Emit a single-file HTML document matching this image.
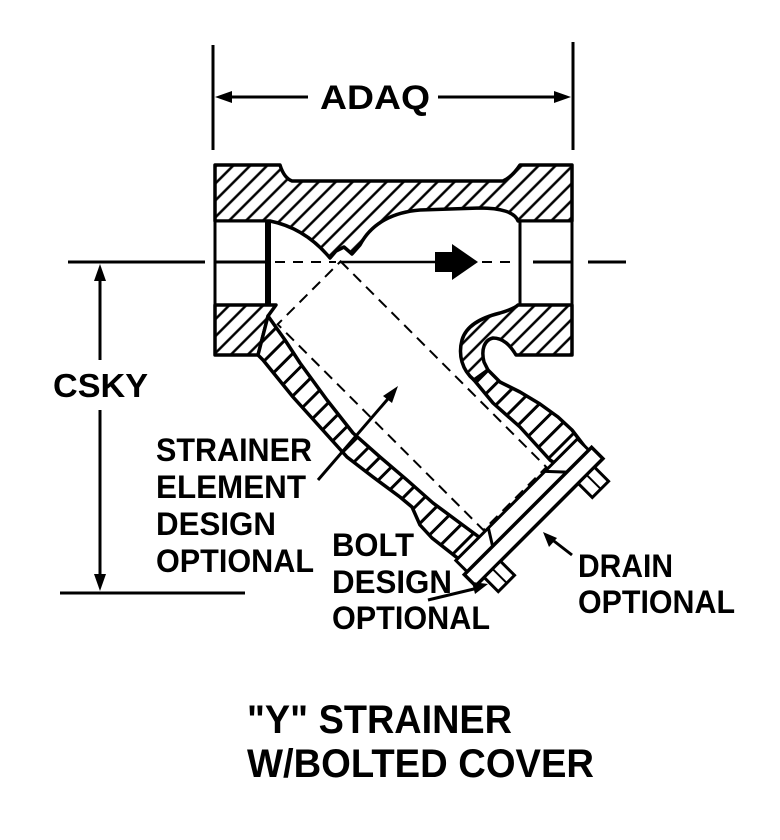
<!DOCTYPE html>
<html><head><meta charset="utf-8"><style>
html,body{margin:0;padding:0;background:#fff}
svg{display:block}
text{font-family:"Liberation Sans",Arial,sans-serif;font-weight:bold;fill:#000}
</style></head><body>
<svg width="780" height="840" viewBox="0 0 780 840" xmlns="http://www.w3.org/2000/svg">
<defs>
<pattern id="hatch" patternUnits="userSpaceOnUse" width="12" height="12" patternTransform="rotate(45)">
<rect width="12" height="12" fill="#fff"/><line x1="6" y1="0" x2="6" y2="12" stroke="#000" stroke-width="2.5"/>
</pattern>
<pattern id="rib" patternUnits="userSpaceOnUse" width="15" height="15" patternTransform="rotate(45)">
<rect width="15" height="15" fill="#fff"/><line x1="7" y1="0" x2="7" y2="15" stroke="#000" stroke-width="3"/>
</pattern>
</defs>

<!-- dimension ADAQ -->
<line x1="213" y1="45" x2="213" y2="150" stroke="#000" stroke-width="3"/>
<line x1="573" y1="42" x2="573" y2="150" stroke="#000" stroke-width="3"/>
<line x1="222" y1="97" x2="308" y2="97" stroke="#000" stroke-width="3"/>
<line x1="438" y1="97" x2="566" y2="97" stroke="#000" stroke-width="3"/>
<polygon points="215,97 232,91 232,103" fill="#000"/>
<polygon points="571,97 554,91 554,103" fill="#000"/>
<text x="320" y="109" font-size="34" textLength="110" lengthAdjust="spacingAndGlyphs">ADAQ</text>

<!-- dimension CSKY -->
<line x1="68" y1="262" x2="205" y2="262" stroke="#000" stroke-width="3"/>
<line x1="60" y1="593" x2="245" y2="593" stroke="#000" stroke-width="3"/>
<line x1="100" y1="270" x2="100" y2="360" stroke="#000" stroke-width="3"/>
<line x1="100" y1="410" x2="100" y2="585" stroke="#000" stroke-width="3"/>
<polygon points="100,264 94,281 106,281" fill="#000"/>
<polygon points="100,591 94,574 106,574" fill="#000"/>
<text x="53" y="397" font-size="33" textLength="95" lengthAdjust="spacingAndGlyphs">CSKY</text>

<!-- body upper hatch -->
<path d="M215,165 L280,165 Q284,178 292,181 L503,181 Q512,177 520,165 L572,165 L572,221 L518,221 C515,212 500,208 480,208 L420,210 C395,212 372,222 360,245 L352,254 L344,247 L336,251 L330,258 C315,240 295,226 270,221 L215,221 Z" fill="url(#hatch)" stroke="#000" stroke-width="3.5" stroke-linejoin="round"/>
<!-- bores -->
<rect x="215" y="221" width="53" height="84" fill="#fff" stroke="#000" stroke-width="3"/>
<line x1="268" y1="221" x2="268" y2="305" stroke="#000" stroke-width="6"/>
<rect x="520" y="221" width="52" height="84" fill="#fff" stroke="#000" stroke-width="3"/>
<!-- lower left hatch -->
<path d="M215,305 L276,305 L268,316 L258,355 L215,355 Z" fill="url(#hatch)" stroke="#000" stroke-width="3.5" stroke-linejoin="round"/>
<!-- lower right hatch -->
<path d="M518,305 L572,305 L572,355 L516,355 C510,345 503,338 493,338 C484,340 481,350 484,362 L488,370 L474,380 C462,370 458,355 462,340 C466,326 480,318 500,313 C510,310 516,307 518,305 Z" fill="url(#hatch)" stroke="#000" stroke-width="3.5" stroke-linejoin="round"/>

<!-- left ribbed wall -->
<path d="M258,355 L263,360 L293,397 L320,427 L347,457 L373,477 L400,497 L412,507 L420,525 L432,538 L460,560 L476,579 L490,552 L483,540 L460,523 L433,503 L407,480 L380,457 L353,433 L327,400 L300,363 L285,340 L268,316 Z" fill="url(#rib)" stroke="#000" stroke-width="3.5" stroke-linejoin="round"/>
<!-- right ribbed wall -->
<path d="M488,370 L500,382 L520,392 L540,404 L558,417 L572,430 L585,447 L565,470 L550,460 L520,427 L493,403 L474,380 Z" fill="url(#rib)" stroke="#000" stroke-width="3.5" stroke-linejoin="round"/>

<!-- centerline & flow arrow -->
<line x1="215" y1="262" x2="268" y2="262" stroke="#000" stroke-width="3"/>
<line x1="275" y1="262" x2="336" y2="262" stroke="#000" stroke-width="2" stroke-dasharray="10 8"/>
<line x1="340" y1="262" x2="436" y2="262" stroke="#000" stroke-width="2.5"/>
<rect x="435" y="252" width="18" height="20" fill="#000"/>
<polygon points="452,244 478,262 452,280" fill="#000"/>
<line x1="482" y1="262" x2="518" y2="262" stroke="#000" stroke-width="2" stroke-dasharray="10 8"/>
<line x1="533" y1="262" x2="572" y2="262" stroke="#000" stroke-width="3"/>
<line x1="588" y1="262" x2="626" y2="262" stroke="#000" stroke-width="3"/>

<!-- rotated leg frame -->
<g transform="translate(412,395) rotate(45)">
  <rect x="-145" y="-44" width="291" height="89" fill="none" stroke="#000" stroke-width="2" stroke-dasharray="11 7"/>
  <rect x="148" y="-86" width="16" height="172" fill="#fff" stroke="#000" stroke-width="3"/>
  <line x1="148" y1="-40" x2="164" y2="-55" stroke="#000" stroke-width="3"/>
  <line x1="148" y1="40" x2="164" y2="50" stroke="#000" stroke-width="3"/>
  <rect x="164" y="-90" width="16" height="180" fill="#fff" stroke="#000" stroke-width="3.5"/>
  <rect x="180" y="55" width="20" height="23" fill="#fff" stroke="#000" stroke-width="3"/>
  <line x1="180" y1="66" x2="200" y2="66" stroke="#000" stroke-width="2"/>
  <rect x="180" y="-78" width="20" height="23" fill="#fff" stroke="#000" stroke-width="3"/>
  <line x1="180" y1="-67" x2="200" y2="-67" stroke="#000" stroke-width="2"/>
</g>

<!-- leaders -->
<line x1="318" y1="480" x2="393" y2="393" stroke="#000" stroke-width="3"/>
<polygon points="398,386 383,396 392,403" fill="#000"/>
<line x1="428" y1="600" x2="478" y2="588" stroke="#000" stroke-width="3"/>
<polygon points="488,584 472,582 475,594" fill="#000"/>
<line x1="572" y1="555" x2="550" y2="538" stroke="#000" stroke-width="3"/>
<polygon points="543,532 549,547 557,538" fill="#000"/>

<!-- labels -->
<text x="156" y="461" font-size="32" textLength="156" lengthAdjust="spacingAndGlyphs">STRAINER</text>
<text x="156" y="498" font-size="32" textLength="150" lengthAdjust="spacingAndGlyphs">ELEMENT</text>
<text x="156" y="535" font-size="32" textLength="120" lengthAdjust="spacingAndGlyphs">DESIGN</text>
<text x="156" y="572" font-size="32" textLength="158" lengthAdjust="spacingAndGlyphs">OPTIONAL</text>
<text x="332" y="556" font-size="32" textLength="82" lengthAdjust="spacingAndGlyphs">BOLT</text>
<text x="332" y="593" font-size="32" textLength="120" lengthAdjust="spacingAndGlyphs">DESIGN</text>
<text x="332" y="629" font-size="32" textLength="158" lengthAdjust="spacingAndGlyphs">OPTIONAL</text>
<text x="578" y="577" font-size="32" textLength="95" lengthAdjust="spacingAndGlyphs">DRAIN</text>
<text x="578" y="613" font-size="32" textLength="157" lengthAdjust="spacingAndGlyphs">OPTIONAL</text>
<text x="247" y="733" font-size="40" textLength="265" lengthAdjust="spacingAndGlyphs">"Y" STRAINER</text>
<text x="247" y="777" font-size="40" textLength="347" lengthAdjust="spacingAndGlyphs">W/BOLTED COVER</text>
</svg>
</body></html>
